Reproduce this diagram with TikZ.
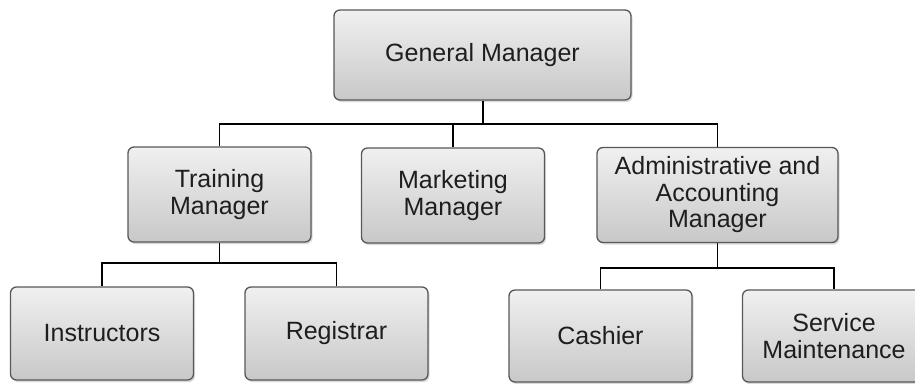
\documentclass[tikz,border=0pt]{standalone}
\usepackage{fontspec}
\setmainfont{Liberation Sans}
\usetikzlibrary{shadows}
\definecolor{boxedge}{RGB}{88,88,88}
\definecolor{boxtop}{RGB}{240,240,240}
\definecolor{boxbot}{RGB}{200,200,200}
\definecolor{boxtext}{RGB}{30,30,30}

\begin{document}
\begin{tikzpicture}[x=1pt, y=-1pt,
    post/.style={draw=boxedge, line width=1.3pt, rounded corners=6pt, top color=boxtop, bottom color=boxbot, drop shadow={shadow xshift=1.5pt, shadow yshift=-2pt, opacity=0.3}, minimum width=183pt, minimum height=95pt, inner sep=0pt, align=center, text=boxtext, font=\fontsize{25}{26.5}\selectfont},
    link/.style={draw=black, line width=1.4pt}]
  \useasboundingbox (0,0) rectangle (915,383);

  \node[post, minimum width=297pt, minimum height=90pt] (gm) at (482.5,55) {General Manager};

  \node[post] (tm) at (219.5,194.5) {Training\\Manager};
  \node[post] (mm) at (453,195.5) {Marketing\\Manager};
  \node[post, minimum width=241pt] (am) at (717.5,195) {Administrative and\\Accounting\\Manager};

  \node[post, minimum height=93pt] (ins) at (102,333.5) {Instructors};
  \node[post, minimum height=93pt] (reg) at (336.5,333.5) {Registrar};
  \node[post, minimum height=92pt] (cash) at (600.5,336) {Cashier};
  \node[post, minimum height=92pt] (serv) at (834,336) {Service\\Maintenance};

  % junction points of the tree lines
  \coordinate (jtop) at (483,124);
  \coordinate (jleft) at (219.5,263);
  \coordinate (jright) at (717.5,268);

  \draw[link] (gm.south -| jtop) -- (jtop);
  \draw[link] (tm.north) |- (jtop) -| (am.north);
  \draw[link] (mm.north) -- (mm.north |- jtop);

  \draw[link] (tm.south) -- (jleft);
  \draw[link] (ins.north) |- (jleft) -| (reg.north);

  \draw[link] (am.south) -- (jright);
  \draw[link] (cash.north) |- (jright) -| (serv.north);
\end{tikzpicture}
\end{document}
